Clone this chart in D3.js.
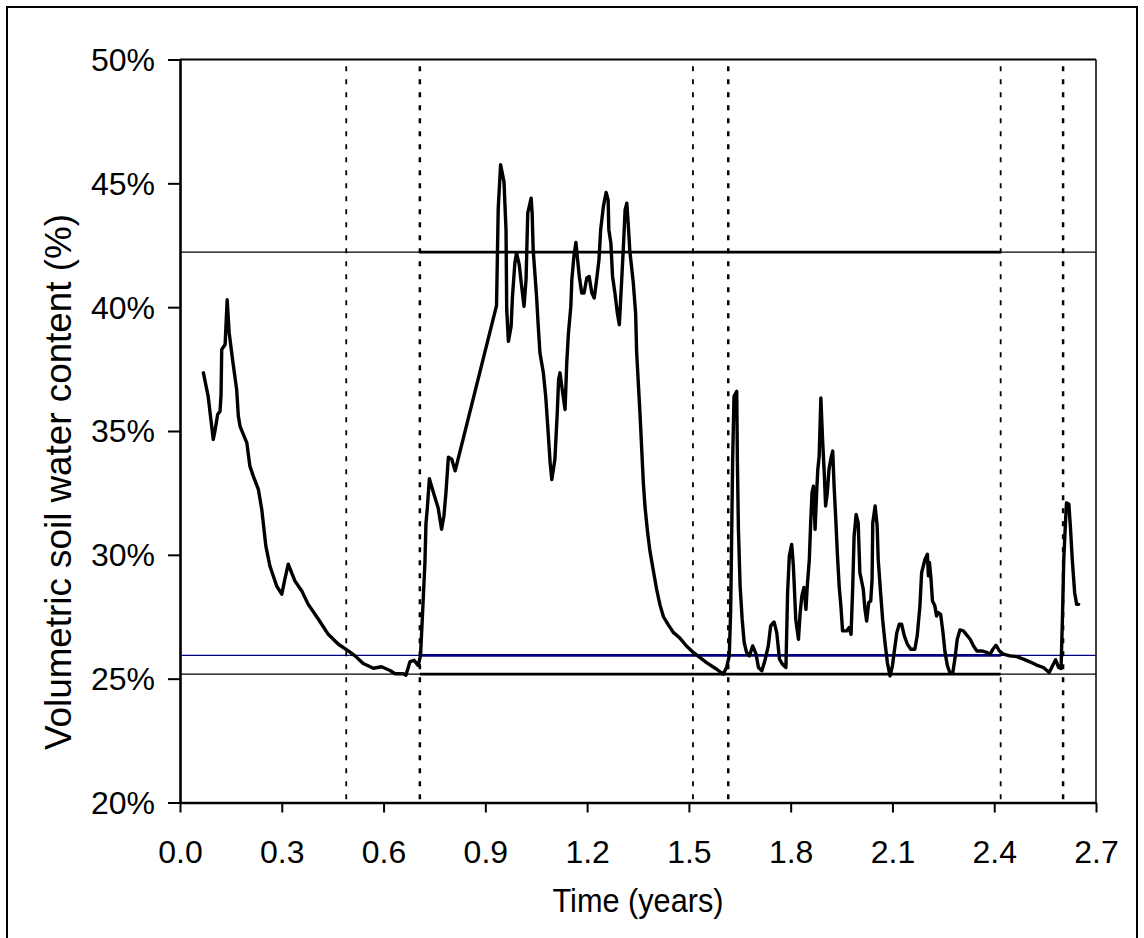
<!DOCTYPE html>
<html>
<head>
<meta charset="utf-8">
<script src="https://cdn.jsdelivr.net/npm/d3@7"></script>
<style>
  html, body { margin: 0; padding: 0; background: #fff; }
  svg { display: block; font-family: "Liberation Sans", Arial, sans-serif; }
</style>
</head>
<body>
<svg id="chart" width="1144" height="938"></svg>
<script>
// ---- data ----
const timeYears = [
  0.069,0.083,0.098,0.103,0.111,0.118,0.121,0.123,0.133,0.139,0.145,0.155,0.167,0.172,0.177,0.197,0.206,0.216,0.231,0.241,
  0.253,0.265,0.285,0.300,0.309,0.319,0.339,0.359,0.378,0.408,0.437,0.467,0.496,0.516,0.540,0.570,0.594,0.619,0.634,0.658,
  0.666,0.678,0.690,0.702,0.709,0.715,0.722,0.725,0.729,0.735,0.747,0.761,0.771,0.778,0.784,0.791,0.801,0.811,0.933,0.938,
  0.945,0.955,0.961,0.963,0.968,0.976,0.980,0.987,0.992,1.000,1.007,1.014,1.020,1.025,1.035,1.038,1.041,1.051,1.056,1.061,
  1.071,1.078,1.084,1.091,1.096,1.105,1.112,1.116,1.120,1.128,1.135,1.140,1.145,1.152,1.155,1.161,1.167,1.171,1.177,1.184,
  1.191,1.199,1.206,1.214,1.221,1.228,1.235,1.240,1.248,1.256,1.262,1.264,1.270,1.275,1.282,1.289,1.295,1.302,1.307,1.312,
  1.317,1.321,1.326,1.336,1.343,1.346,1.351,1.356,1.361,1.366,1.371,1.378,1.385,1.395,1.405,1.415,1.425,1.439,1.454,1.474,
  1.493,1.513,1.552,1.582,1.601,1.611,1.619,1.623,1.626,1.629,1.633,1.641,1.643,1.646,1.651,1.657,1.663,1.670,1.678,1.688,
  1.698,1.705,1.715,1.724,1.734,1.741,1.751,1.759,1.767,1.776,1.786,1.791,1.796,1.803,1.808,1.815,1.823,1.828,1.833,1.839,
  1.845,1.849,1.855,1.859,1.863,1.867,1.872,1.877,1.880,1.884,1.889,1.894,1.899,1.903,1.908,1.913,1.918,1.924,1.928,1.933,
  1.938,1.943,1.948,1.953,1.965,1.972,1.978,1.983,1.987,1.993,1.999,2.004,2.014,2.019,2.024,2.030,2.036,2.040,2.042,2.049,
  2.055,2.058,2.065,2.071,2.078,2.085,2.093,2.100,2.105,2.113,2.120,2.127,2.135,2.144,2.154,2.166,2.173,2.181,2.186,2.191,
  2.196,2.203,2.206,2.209,2.213,2.218,2.225,2.230,2.235,2.242,2.249,2.255,2.262,2.270,2.278,2.284,2.291,2.299,2.309,2.321,
  2.329,2.339,2.349,2.363,2.378,2.388,2.396,2.405,2.415,2.427,2.446,2.466,2.486,2.505,2.525,2.545,2.562,2.572,2.581,2.590,
  2.597,2.601,2.605,2.610,2.613,2.620,2.625,2.630,2.637,2.643,2.649
];
const soilWater = [
  37.35,36.40,34.66,35.00,35.67,35.80,36.47,38.29,38.49,40.30,38.96,37.88,36.67,35.60,35.19,34.52,33.58,33.18,32.64,31.83,
  30.36,29.55,28.74,28.41,29.01,29.62,28.94,28.54,28.00,27.40,26.79,26.39,26.12,25.92,25.61,25.42,25.48,25.33,25.20,25.20,
  25.14,25.69,25.74,25.53,25.93,27.65,29.70,31.27,31.89,33.07,32.52,31.89,31.03,31.58,32.52,33.94,33.86,33.39,40.06,43.99,
  45.75,45.06,43.10,39.90,38.62,39.23,40.44,41.78,42.19,41.71,40.84,40.03,41.11,43.80,44.40,43.80,42.32,40.44,39.23,38.15,
  37.35,36.40,35.19,33.72,33.04,33.85,35.73,37.08,37.35,36.54,35.87,37.75,38.96,40.03,41.11,42.05,42.61,42.05,41.24,40.57,
  40.57,41.18,41.24,40.57,40.37,41.11,41.92,43.13,44.07,44.63,44.33,43.13,42.59,41.24,40.57,39.77,39.29,41.11,42.45,43.93,
  44.20,43.39,42.26,41.00,39.75,38.18,36.92,35.67,34.25,32.84,31.89,30.95,30.17,29.38,28.60,27.97,27.50,27.18,26.87,26.63,
  26.32,26.06,25.65,25.38,25.18,25.45,25.92,27.67,30.63,33.85,36.40,36.60,33.72,31.03,28.74,27.40,26.46,26.06,25.92,26.32,
  25.99,25.45,25.32,25.72,26.32,27.13,27.29,26.86,25.79,25.58,25.45,28.48,29.95,30.42,29.55,27.40,26.59,27.67,28.34,28.68,
  27.80,28.74,29.82,31.30,32.51,32.77,31.03,32.64,33.45,33.98,36.33,34.66,33.31,31.97,32.51,33.45,33.85,34.19,32.77,31.43,
  29.95,28.74,27.94,26.93,26.93,27.06,26.79,28.74,30.76,31.63,31.30,29.28,28.61,27.80,27.33,28.07,28.14,29.01,31.30,31.97,
  31.16,29.82,28.48,27.40,26.46,25.65,25.11,25.52,26.06,26.86,27.20,27.20,26.73,26.39,26.19,26.19,26.73,27.94,29.28,29.55,
  29.82,30.02,29.15,29.69,29.15,28.14,27.94,27.53,27.67,27.60,26.86,26.06,25.52,25.22,25.25,25.79,26.59,26.97,26.93,26.73,
  26.59,26.32,26.12,26.12,26.06,25.99,26.19,26.35,26.12,25.99,25.92,25.89,25.79,25.68,25.55,25.45,25.25,25.52,25.76,25.45,
  25.41,27.40,29.82,31.30,32.10,32.04,31.03,29.82,28.48,28.00,28.00
];
const eventTimes = [0.49, 0.707, 1.512, 1.616, 2.419, 2.603];   // dashed vertical markers
const eventStrong = [false, true, false, true, false, true];
const thresholdLevels = [42.22, 25.94, 25.18];                 // horizontal reference lines (%)
const thresholdColors = ["#000000", "#000080", "#000000"];
const emphasisSpan = [0.707, 2.419];                           // where the reference lines are drawn bold
const xTicks = [0, 0.3, 0.6, 0.9, 1.2, 1.5, 1.8, 2.1, 2.4, 2.7];
const yTicks = [20, 25, 30, 35, 40, 45, 50];
const xTitle = "Time (years)";
const yTitle = "Volumetric soil water content (%)";

// ---- drawing ----
const svg = d3.select("#chart");
svg.append("rect").attr("width", 1144).attr("height", 938).attr("fill", "#fff");
// outer chart frame
svg.append("rect").attr("x", 7).attr("y", 7).attr("width", 1130).attr("height", 960)
  .attr("fill", "none").attr("stroke", "#000").attr("stroke-width", 2);

const x = d3.scaleLinear().domain([0, 2.7]).range([180, 1096]);
const y = d3.scaleLinear().domain([20, 50]).range([802.5, 59.5]);

// plot frame top & right
svg.append("line").attr("x1", x(0)).attr("x2", x(2.7)).attr("y1", y(50)).attr("y2", y(50))
  .attr("stroke", "#000").attr("stroke-width", 2);
svg.append("line").attr("x1", x(2.7)).attr("x2", x(2.7)).attr("y1", y(50)).attr("y2", y(20))
  .attr("stroke", "#000").attr("stroke-width", 1.5);

// reference lines (thin full width + bold segment)
thresholdLevels.forEach((lv, i) => {
  svg.append("line").attr("x1", x(0)).attr("x2", x(2.7)).attr("y1", y(lv)).attr("y2", y(lv))
    .attr("stroke", thresholdColors[i]).attr("stroke-width", 1.3);
  svg.append("line").attr("x1", x(emphasisSpan[0])).attr("x2", x(emphasisSpan[1]))
    .attr("y1", y(lv)).attr("y2", y(lv))
    .attr("stroke", thresholdColors[i]).attr("stroke-width", 2.8);
});

// dashed event lines
svg.append("g").selectAll("line").data(eventTimes).join("line")
  .attr("x1", d => x(d)).attr("x2", d => x(d))
  .attr("y1", y(49.73)).attr("y2", y(20))
  .attr("stroke", "#000")
  .attr("stroke-width", (d, i) => eventStrong[i] ? 2.5 : 1.8)
  .attr("stroke-dasharray", "5,8");

// data line
const pts = timeYears.map((t, i) => [t, soilWater[i]]);
svg.append("path").datum(pts)
  .attr("fill", "none").attr("stroke", "#000").attr("stroke-width", 3.4)
  .attr("stroke-linejoin", "round").attr("stroke-linecap", "round")
  .attr("d", d3.line().x(d => x(d[0])).y(d => y(d[1])));

// axes
const yAxis = svg.append("g").attr("transform", `translate(${x(0)},0)`)
  .call(d3.axisLeft(y).tickValues(yTicks).tickFormat(d => d + "%").tickSize(12).tickSizeOuter(0).tickPadding(13));
const xAxis = svg.append("g").attr("transform", `translate(0,${y(20)})`)
  .call(d3.axisBottom(x).tickValues(xTicks).tickFormat(d3.format(".1f")).tickSize(10).tickSizeOuter(0).tickPadding(28));
[yAxis, xAxis].forEach(g => {
  g.select(".domain").attr("stroke", "#000").attr("stroke-width", 2.6);
  g.selectAll(".tick line").attr("stroke", "#000").attr("stroke-width", 2);
  g.selectAll(".tick text").attr("fill", "#000").attr("font-size", 32)
    .attr("font-family", '"Liberation Sans", Arial, sans-serif');
});
yAxis.selectAll(".tick text").attr("dy", "0.34em");

// axis titles
svg.append("text").attr("x", (x(0) + x(2.7)) / 2).attr("y", 912)
  .attr("text-anchor", "middle").attr("font-size", 34)
  .attr("textLength", 171).attr("lengthAdjust", "spacingAndGlyphs").text(xTitle);
svg.append("text").attr("transform", `translate(71,482) rotate(-90)`)
  .attr("text-anchor", "middle").attr("font-size", 36)
  .attr("textLength", 536).attr("lengthAdjust", "spacingAndGlyphs").text(yTitle);
</script>
</body>
</html>
